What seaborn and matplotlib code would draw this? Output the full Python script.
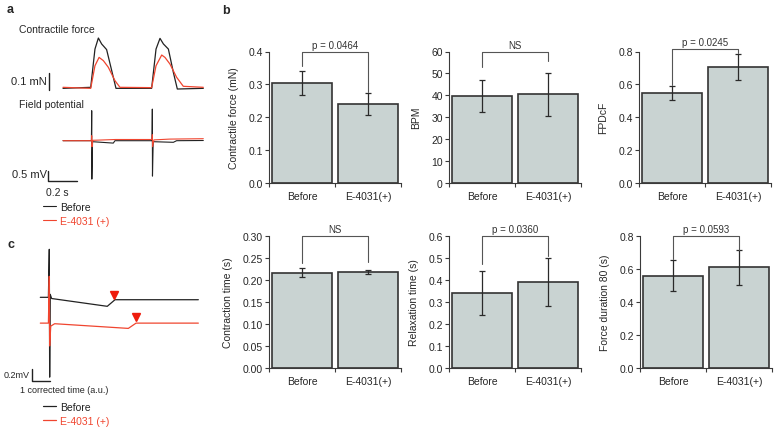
import matplotlib
matplotlib.use("Agg")
import matplotlib.pyplot as plt
import seaborn as sns
import pandas as pd

sns.set_theme(style="ticks")
plt.rcParams['font.family'] = ['Liberation Sans', 'DejaVu Sans']

W, H = 775, 431
PRETO = '#222222'
VERMELHO = '#f0452f'

# ---------------- painel b: valores ----------------
grupos = ["Before", "E-4031(+)"]
rotulos_y = ["Contractile force (mN)", "BPM", "FPDcF",
             "Contraction time (s)", "Relaxation time (s)", "Force duration 80 (s)"]
medias = [[0.305, 0.241], [39.8, 40.5], [0.547, 0.705],
          [0.217, 0.218], [0.342, 0.392], [0.560, 0.610]]
erros = [[0.037, 0.034], [7.4, 9.9], [0.045, 0.078],
         [0.010, 0.005], [0.100, 0.110], [0.094, 0.107]]
yticks = [[0, 0.1, 0.2, 0.3, 0.4], [0, 10, 20, 30, 40, 50, 60],
          [0, 0.2, 0.4, 0.6, 0.8], [0, 0.05, 0.10, 0.15, 0.20, 0.25, 0.30],
          [0, 0.1, 0.2, 0.3, 0.4, 0.5, 0.6], [0, 0.2, 0.4, 0.6, 0.8]]
formatos = ["{:.1f}", "{:.0f}", "{:.1f}", "{:.2f}", "{:.1f}", "{:.1f}"]
textos_p = ["p = 0.0464", "NS", "p = 0.0245", "NS", "p = 0.0360", "p = 0.0593"]
topo_colchete = [0.4, 60, 0.818, 0.30, 0.6, 0.8]
pernas_colchete = [[0.357, 0.276], [52.7, 55.7], [0.595, 0.788],
                   [0.238, 0.242], [0.471, 0.509], [0.660, 0.715]]

# ---------------- painel a: tracos (tempo em s) ----------------
t_forca_antes = [0, 0.195, 0.225, 0.249, 0.272, 0.307, 0.343, 0.373, 0.624,
                 0.655, 0.683, 0.707, 0.742, 0.777, 0.805, 0.988]
forca_antes = [0, 0.006, 0.231, 0.296, 0.261, 0.228, 0.104, 0, 0,
               0.231, 0.294, 0.261, 0.231, 0.094, -0.004, 0]
t_forca_e4031 = [0, 0.195, 0.225, 0.254, 0.284, 0.319, 0.366, 0.401, 0.624,
                 0.655, 0.695, 0.718, 0.753, 0.800, 0.847, 0.988]
forca_e4031 = [0.006, 0, 0.133, 0.182, 0.163, 0.124, 0.045, 0.006, 0.004,
               0.133, 0.196, 0.182, 0.143, 0.065, 0.012, 0.006]

t_fp_antes = [0, 0.200, 0.202, 0.203, 0.208, 0.354, 0.366, 0.627, 0.629,
              0.630, 0.635, 0.777, 0.800, 0.988]
fp_antes = [0, 0, 1.5, -1.92, -0.05, -0.12, 0, 0, 1.58, -1.77, -0.05, -0.08, 0, 0.01]
t_fp_e4031 = [0, 0.200, 0.202, 0.204, 0.210, 0.370, 0.627, 0.629, 0.631, 0.640, 0.750, 0.988]
fp_e4031 = [0, 0, 0.25, -0.3, 0.02, 0.06, 0.06, 0.3, -0.3, 0.04, 0.08, 0.1]

# ---------------- painel c: tempo corrigido (u.a.), mV ----------------
t_c_antes = [-0.5, -0.05, 0.0, 0.02, 0.05, 0.13, 3.22, 3.65, 8.28]
v_c_antes = [0, 0, 0.8, -1.33, 0.05, -0.02, -0.15, -0.04, -0.04]
t_c_e4031 = [-0.5, -0.05, 0.0, 0.02, 0.08, 0.3, 4.39, 4.82, 8.28]
v_c_e4031 = [0, 0, 0.78, -0.38, -0.05, -0.01, -0.088, 0.0, 0.0]
desloc_c_e4031 = -0.43
marca_t = [3.61, 4.80]
marca_v = [0.04, -0.32]

fig = plt.figure(figsize=(W / 100, H / 100), dpi=100)


def eixo_px(x0, y0, x1, y1):
    return fig.add_axes([x0 / W, 1 - y1 / H, (x1 - x0) / W, (y1 - y0) / H])


def texto_px(x, y, s, **kw):
    kw.setdefault('fontsize', 7.5)
    kw.setdefault('va', 'center')
    fig.text(x / W, 1 - y / H, s, **kw)


# ---------------- painel b ----------------
lefts = [269, 449, 639, 269, 449, 640]
linhas_y = [(52.5, 184), (52.5, 184), (52.5, 184), (237, 369), (237, 369), (237, 369)]

for i in range(6):
    y0, y1 = linhas_y[i]
    ax = eixo_px(lefts[i], y0, lefts[i] + 132, y1)
    df = pd.DataFrame({"grupo": grupos, "valor": medias[i]})
    sns.barplot(data=df, x="grupo", y="valor", ax=ax, color='#c9d3d2',
                saturation=1, edgecolor='#333333', linewidth=1.2, width=0.91)
    ax.errorbar([0, 1], medias[i], yerr=erros[i], fmt='none', ecolor='#2a2a2a',
                elinewidth=0.9, capsize=2, capthick=0.9)
    ax.set_xlim(-0.5, 1.5)
    ax.set_ylim(0, yticks[i][-1])
    ax.set_yticks(yticks[i])
    ax.set_yticklabels([formatos[i].format(v) for v in yticks[i]])
    ax.set_xticks([0, 1])
    ax.set_xticks([-0.5, 0.5, 1.5], minor=True)
    ax.tick_params(axis='x', which='major', length=0, pad=6, labelsize=7.5)
    ax.tick_params(axis='x', which='minor', length=3, width=0.8, color='#3a3a3a')
    ax.tick_params(axis='y', length=3, width=0.8, color='#3a3a3a', pad=1.5, labelsize=7.5)
    ax.set_xlabel('')
    ax.set_ylabel(rotulos_y[i], fontsize=7.5, labelpad=7)
    for lado in ['top', 'right']:
        ax.spines[lado].set_visible(False)
    for lado in ['left', 'bottom']:
        ax.spines[lado].set_color('#3a3a3a')
        ax.spines[lado].set_linewidth(0.8)
    # colchete de significancia
    top = topo_colchete[i]
    l0, l1 = pernas_colchete[i]
    ax.plot([0, 0, 1, 1], [l0, top, top, l1], color='#555555', lw=0.8, clip_on=False)
    ax.text(0.5, top + yticks[i][-1] * 0.015, textos_p[i], ha='center', va='bottom',
            fontsize=7, color='#333333')

# ---------------- painel a ----------------
ax_f = eixo_px(5, 35, 208, 95)
ax_f.plot(t_forca_antes, forca_antes, color=PRETO, lw=0.9)
ax_f.plot(t_forca_e4031, forca_e4031, color=VERMELHO, lw=0.9)
ax_f.plot([-0.099, -0.099], [-0.008, 0.092], color=PRETO, lw=1.0)
ax_f.set_xlim(-0.4085, 1.021)
ax_f.set_ylim(-0.0333, 0.3196)
ax_f.axis('off')

ax_fp = eixo_px(5, 105, 208, 190)
l_antes, = ax_fp.plot(t_fp_antes, fp_antes, color=PRETO, lw=0.8, label='Before')
l_e, = ax_fp.plot(t_fp_e4031, fp_e4031, color=VERMELHO, lw=0.8, label='E-4031 (+)')
ax_fp.plot([-0.103, -0.103, 0.096], [-1.5, -2.0, -2.0], color=PRETO, lw=1.0)
ax_fp.set_xlim(-0.4085, 1.021)
ax_fp.set_ylim(-2.415, 1.835)
ax_fp.axis('off')

texto_px(19, 30, "Contractile force", fontsize=7.5)
texto_px(19, 105, "Field potential", fontsize=7.5)
texto_px(47, 82, "0.1 mN", ha='right', fontsize=8)
texto_px(47, 175, "0.5 mV", ha='right', fontsize=8)
texto_px(46, 193, "0.2 s")

ax_fp.legend(handles=[l_antes, l_e], loc='upper left',
             bbox_to_anchor=(43 / W, 1 - 203 / H), bbox_transform=fig.transFigure,
             frameon=False, handlelength=1.2, handletextpad=0.4, labelspacing=0.35,
             borderpad=0, borderaxespad=0, fontsize=7.5, labelcolor='linecolor')

# ---------------- painel c ----------------
ax_c = eixo_px(20, 240, 205, 390)
lc_antes, = ax_c.plot(t_c_antes, v_c_antes, color=PRETO, lw=0.9, label='Before')
lc_e, = ax_c.plot(t_c_e4031, [v + desloc_c_e4031 for v in v_c_e4031], color=VERMELHO,
                  lw=0.9, label='E-4031 (+)')
ax_c.plot(marca_t, marca_v, linestyle='none', marker='v', markersize=5.5,
          color='#ee1c0c')
ax_c.plot([-0.944, -0.944, 0.056], [-1.2, -1.4, -1.4], color=PRETO, lw=1.0)
ax_c.set_xlim(-1.628, 8.65)
ax_c.set_ylim(-1.528, 0.972)
ax_c.axis('off')

texto_px(30, 376, "0.2mV", ha='right', fontsize=6.5)
texto_px(64, 391, "1 corrected time (a.u.)", ha='center', fontsize=6.5)

ax_c.legend(handles=[lc_antes, lc_e], loc='upper left',
            bbox_to_anchor=(43 / W, 1 - 403 / H), bbox_transform=fig.transFigure,
            frameon=False, handlelength=1.2, handletextpad=0.4, labelspacing=0.35,
            borderpad=0, borderaxespad=0, fontsize=7.5, labelcolor='linecolor')

# letras dos paineis
texto_px(7, 10, "a", fontsize=9, fontweight='bold')
texto_px(222, 11, "b", fontsize=9, fontweight='bold')
texto_px(7, 245, "c", fontsize=9, fontweight='bold')

plt.savefig('out.png', dpi=100)
